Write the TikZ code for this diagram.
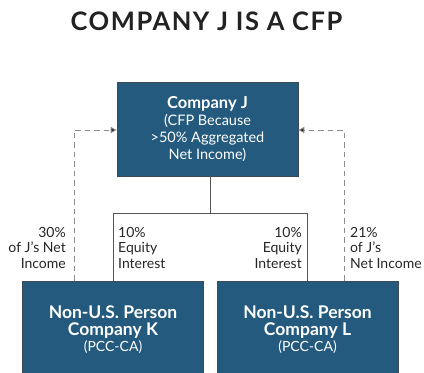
\documentclass[tikz,border=0pt]{standalone}
\usepackage{fontspec}
\setmainfont{Lato}
\usetikzlibrary{arrows.meta}
\definecolor{boxblue}{HTML}{245A7D}
\definecolor{boxedge}{HTML}{3E4A54}
\definecolor{linegray}{HTML}{555555}
\definecolor{dashgray}{HTML}{8C8C8C}
\definecolor{titlegray}{HTML}{222222}
\newcommand{\boxhead}{\fontsize{17.5}{21}\selectfont\bfseries}
\begin{document}
\begin{tikzpicture}[x=1pt,y=-1pt,
  box/.style={draw=boxedge,line width=0.7pt,fill=boxblue,text=white,align=center,inner sep=0pt},
  tree/.style={draw=linegray,line width=0.9pt},
  income/.style={draw=dashgray,line width=0.9pt,dash pattern=on 5.5pt off 4pt,
    -{Triangle[length=6pt,width=6pt,fill=black!85]}},
  note/.style={inner sep=0pt,font=\fontsize{14}{15.5}\selectfont,text=black!85}]
\useasboundingbox (0,0) rectangle (424,373);
\begin{scope}
\clip (0,0) rectangle (424,373);

% title
\node[inner sep=0pt,text=titlegray] (title) at (206.5,21)
  {\fontsize{25.5}{28}\selectfont\bfseries\addfontfeatures{LetterSpace=6}COMPANY J IS A CFP};

% parent company
\node[box,minimum width=181,minimum height=94,font=\fontsize{14.5}{17}\selectfont] (J) at (207.5,129)
  {\fontsize{16.5}{19}\selectfont\bfseries Company J\\[0.5pt]
   (CFP Because\\ >50\% Aggregated\\ Net Income)};

% shareholders
\node[box,minimum width=181,minimum height=98,font=\fontsize{14}{17}\selectfont] (K) at (113,330)
  {\boxhead Non-U.S. Person\\ \boxhead Company K\\[-1pt] (PCC-CA)};
\node[box,minimum width=181,minimum height=98,font=\fontsize{14}{17}\selectfont] (L) at (307.5,330)
  {\boxhead Non-U.S. Person\\ \boxhead Company L\\[-1pt] (PCC-CA)};

% ownership tree
\coordinate (split) at (210,213);
\draw[tree] ([xshift=2.5pt]J.south) -- (split);
\draw[tree] (split) -| (K.north);
\draw[tree] (split) -| (L.north);

% income attribution
\draw[income] ([xshift=-39pt]K.north) |- ([yshift=-1pt]J.west);
\draw[income] ([xshift=36.5pt]L.north) |- ([yshift=-1pt]J.east);

% labels
\node[note,anchor=north east,align=right] (kinc) at (66,227)
  {30\%\\ of J’s Net\\ Income};
\node[note,anchor=north west,align=left] (keq) at (118,227)
  {10\%\\ Equity\\ Interest};
\node[note,anchor=north east,align=right] (leq) at (302,227)
  {10\%\\ Equity\\ Interest};
\node[note,anchor=north west,align=left] (linc) at (350,227)
  {21\%\\ of J’s\\ Net Income};
\end{scope}
\end{tikzpicture}
\end{document}
